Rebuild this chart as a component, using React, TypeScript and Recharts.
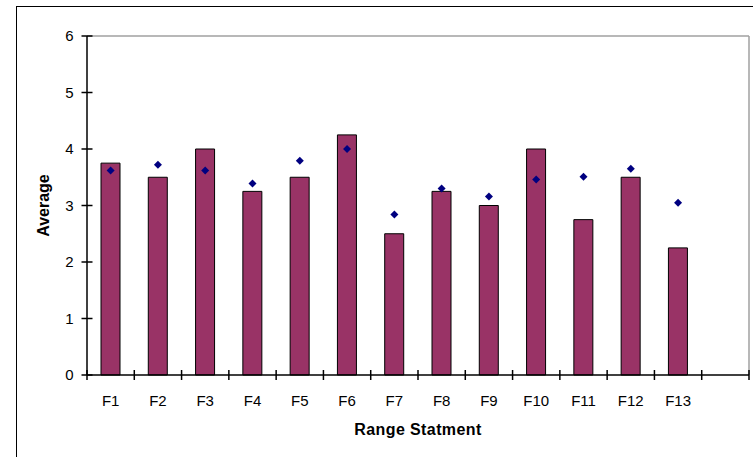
import React from "react";
import { Bar, ComposedChart, Line, ReferenceLine, XAxis, YAxis } from "recharts";

const categories = ["F1", "F2", "F3", "F4", "F5", "F6", "F7", "F8", "F9", "F10", "F11", "F12", "F13", ""];
const barValues = [3.75, 3.5, 4, 3.25, 3.5, 4.25, 2.5, 3.25, 3, 4, 2.75, 3.5, 2.25, null];
const markerValues = [3.62, 3.72, 3.62, 3.39, 3.79, 4.0, 2.84, 3.3, 3.16, 3.46, 3.51, 3.65, 3.05, null];
const yTicks = [0, 1, 2, 3, 4, 5, 6];

// each category occupies one unit on the x scale, its mark centred at i + 0.5
const data = categories.map((name, i) => ({ name, pos: i + 0.5, bar: barValues[i], marker: markerValues[i] }));

// category edges sit on whole numbers, labels on the half steps between them
const edgeTicks: number[] = [];
for (let i = 0; i <= categories.length; i++) {
  edgeTicks.push(i);
  if (i < categories.length) edgeTicks.push(i + 0.5);
}

const FONT = "Arial, 'Liberation Sans', sans-serif";

function YTick(props: any) {
  const { x, y, payload } = props;
  return (
    <g>
      <line x1={x - 5.5} x2={x + 5.5} y1={y} y2={y} stroke="#000" strokeWidth={1.5} />
      <text x={x - 13.5} y={y + 5} textAnchor="end" fontSize={15} fontFamily={FONT} fill="#000">
        {payload.value}
      </text>
    </g>
  );
}

function XTick(props: any) {
  const { x, y, payload } = props;
  const v = payload.value as number;
  if (Number.isInteger(v)) {
    return <line x1={x} x2={x} y1={y - 5} y2={y + 5} stroke="#000" strokeWidth={1.5} />;
  }
  return (
    <text x={x} y={y + 31} textAnchor="middle" fontSize={15} fontFamily={FONT} fill="#000">
      {categories[Math.floor(v)]}
    </text>
  );
}

function Diamond(props: any) {
  const { cx, cy, value } = props;
  if (value == null || cx == null || cy == null) return <g />;
  const r = 4;
  return <path d={`M${cx},${cy - r}L${cx + r},${cy}L${cx},${cy + r}L${cx - r},${cy}Z`} fill="#000080" />;
}

export default function App() {
  return (
    <div style={{ position: "absolute", left: 0, top: 0, width: 753, height: 457, overflow: "hidden", background: "#fff" }}>
      <div
        style={{
          position: "absolute",
          left: 16,
          top: 6,
          width: 800,
          height: 500,
          borderLeft: "1.5px solid #000",
          borderTop: "1.5px solid #000",
        }}
      />
      <div style={{ position: "absolute", left: 0, top: 0 }}>
        <ComposedChart width={753} height={457} data={data} margin={{ top: 36, right: 4, bottom: 0, left: 0 }}>
          <XAxis
            dataKey="pos"
            type="number"
            domain={[0, categories.length]}
            ticks={edgeTicks}
            interval={0}
            height={82}
            tickSize={0}
            tickMargin={0}
            tickLine={false}
            axisLine={{ stroke: "#000", strokeWidth: 1.5 }}
            tick={<XTick />}
            label={{ value: "Range Statment", position: "center", dy: 13, fontSize: 16, fontWeight: "bold", fontFamily: FONT, fill: "#000", letterSpacing: 0.4 }}
          />
          <YAxis
            domain={[0, 6]}
            ticks={yTicks}
            interval={0}
            width={87}
            tickSize={0}
            tickMargin={0}
            tickLine={false}
            axisLine={{ stroke: "#000", strokeWidth: 1.5 }}
            tick={<YTick />}
            label={{ value: "Average", angle: -90, position: "center", fontSize: 16, fontWeight: "bold", fontFamily: FONT, fill: "#000" }}
          />
          <ReferenceLine y={6} stroke="#a0a0a0" strokeWidth={1.5} />
          <ReferenceLine x={categories.length} stroke="#a0a0a0" strokeWidth={1.5} />
          <Bar dataKey="bar" barSize={19} fill="#993366" stroke="#000" strokeWidth={1} isAnimationActive={false} />
          <Line
            dataKey="marker"
            stroke="none"
            dot={<Diamond />}
            activeDot={false}
            legendType="none"
            isAnimationActive={false}
          />
        </ComposedChart>
      </div>
    </div>
  );
}
